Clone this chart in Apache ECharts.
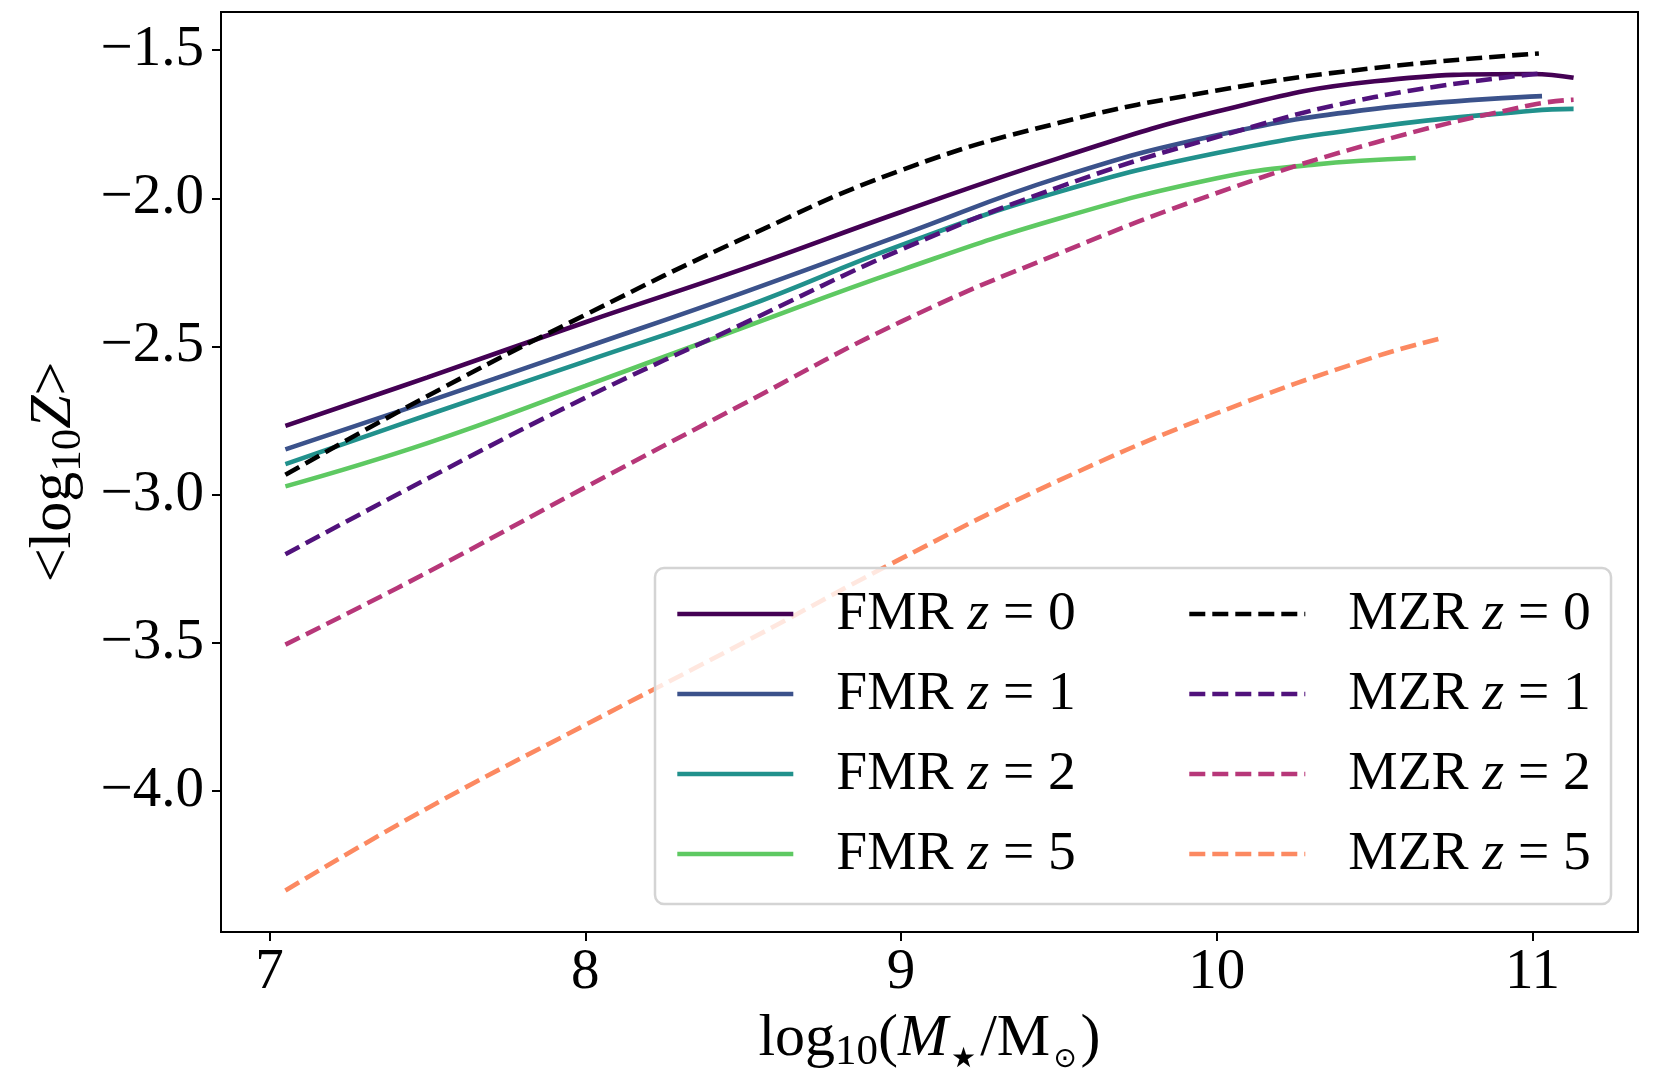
<!DOCTYPE html>
<html>
<head>
<meta charset="utf-8">
<script src="https://cdn.jsdelivr.net/npm/echarts@6/dist/echarts.min.js"></script>
<style>
html,body{margin:0;padding:0;background:#fff;}
#chart{width:1665px;height:1080px;}
</style>
</head>
<body>
<div id="chart"></div>
<script>
// ---- data ----
const xTicks = [7, 8, 9, 10, 11];
const yTicks = [-4.0, -3.5, -3.0, -2.5, -2.0, -1.5];

const fmr0X = [7.05, 7.5, 8.0, 8.5, 9.0, 9.5, 10.0, 10.5, 11.0, 11.13];
const fmr0Y = [-2.768, -2.604, -2.418, -2.238, -2.046, -1.864, -1.707, -1.605, -1.580, -1.593];

const fmr1X = [7.05, 7.5, 8.0, 8.5, 9.0, 9.5, 10.0, 10.5, 11.03];
const fmr1Y = [-2.847, -2.686, -2.503, -2.318, -2.124, -1.930, -1.787, -1.698, -1.655];

const fmr2X = [7.05, 7.5, 8.0, 8.5, 9.0, 9.5, 10.0, 10.5, 11.0, 11.13];
const fmr2Y = [-2.897, -2.731, -2.550, -2.368, -2.158, -1.978, -1.847, -1.759, -1.704, -1.698];

const fmr5X = [7.05, 7.5, 8.0, 8.5, 9.0, 9.5, 10.0, 10.3, 10.63];
const fmr5Y = [-2.972, -2.826, -2.633, -2.436, -2.242, -2.068, -1.932, -1.887, -1.864];

const mzr0X = [7.05, 7.5, 8.0, 8.5, 9.0, 9.5, 10.0, 10.5, 11.02];
const mzr0Y = [-2.933, -2.667, -2.393, -2.135, -1.905, -1.745, -1.636, -1.560, -1.511];

const mzr1X = [7.05, 7.5, 8.0, 8.5, 9.0, 9.5, 10.0, 10.5, 11.02];
const mzr1Y = [-3.201, -2.946, -2.673, -2.423, -2.173, -1.962, -1.793, -1.658, -1.579];

const mzr2X = [7.05, 7.5, 8.0, 8.5, 9.0, 9.5, 10.0, 10.5, 11.0, 11.13];
const mzr2Y = [-3.506, -3.262, -2.975, -2.694, -2.416, -2.186, -1.982, -1.812, -1.684, -1.667];

const mzr5X = [7.05, 7.5, 8.0, 8.5, 9.0, 9.5, 10.0, 10.5, 10.72];
const mzr5Y = [-4.336, -4.058, -3.777, -3.500, -3.216, -2.952, -2.725, -2.535, -2.470];

const fmrNames = ['FMR z=0', 'FMR z=1', 'FMR z=2', 'FMR z=5'];
const mzrNames = ['MZR z=0', 'MZR z=1', 'MZR z=2', 'MZR z=5'];
// ---------------------------------------

const pairs = (xs, ys) => xs.map((x, i) => [x, ys[i]]);
const LW = 4.6;
const DASH = [16, 7];
const SERIF = 'Liberation Serif';

function mkSeries(name, xs, ys, color, dashed) {
  return {
    name: name,
    type: 'line',
    data: pairs(xs, ys),
    smooth: 0.45,
    symbol: 'none',
    showSymbol: false,
    z: 2,
    color: color,
    itemStyle: { color: color },
    lineStyle: { width: LW, color: color, type: dashed ? DASH : 'solid', cap: 'butt' }
  };
}

const series = [
  mkSeries(fmrNames[0], fmr0X, fmr0Y, '#440154', false),
  mkSeries(fmrNames[1], fmr1X, fmr1Y, '#3b528b', false),
  mkSeries(fmrNames[2], fmr2X, fmr2Y, '#21918c', false),
  mkSeries(fmrNames[3], fmr5X, fmr5Y, '#5ec962', false),
  mkSeries(mzrNames[0], mzr0X, mzr0Y, '#000000', true),
  mkSeries(mzrNames[1], mzr1X, mzr1Y, '#51127c', true),
  mkSeries(mzrNames[2], mzr2X, mzr2Y, '#b73779', true),
  mkSeries(mzrNames[3], mzr5X, mzr5Y, '#fc8961', true)
];

const LFS = 55.5;
const legendRich = {
  t: { fontFamily: SERIF, fontSize: LFS, color: '#000', lineHeight: 50 },
  i: { fontFamily: SERIF, fontSize: LFS, fontStyle: 'italic', color: '#000', lineHeight: 50 }
};
function legendFmt(name) {
  const parts = name.split(' z=');
  return '{t|' + parts[0] + ' }{i|z}{t| = ' + parts[1] + '}';
}
function mkLegend(names, left) {
  return {
    data: names,
    orient: 'vertical',
    left: left,
    top: 586,
    itemWidth: 116,
    itemHeight: 4,
    itemGap: 24,
    padding: 0,
    z: 10,
    selectedMode: false,
    formatter: legendFmt,
    itemStyle: { opacity: 0 },
    lineStyle: { width: LW },
    textStyle: { fontFamily: SERIF, fontSize: LFS, color: '#000', padding: [0, 0, 0, 38], rich: legendRich }
  };
}

const labelStyle = { fontFamily: SERIF, fontSize: 57, color: '#000' };
const NFS = 60;

const option = {
  backgroundColor: '#ffffff',
  animation: false,
  grid: { left: 221, right: 27, top: 12, bottom: 148, show: true, borderColor: '#000', borderWidth: 2, backgroundColor: 'transparent' },
  xAxis: {
    type: 'value',
    min: 6.846,
    max: 11.334,
    splitLine: { show: false },
    axisLine: { show: true, onZero: false, lineStyle: { color: '#000', width: 2 } },
    axisTick: { show: true, inside: false, length: 9, lineStyle: { color: '#000', width: 2 }, customValues: xTicks },
    axisLabel: { show: true, margin: 13, customValues: xTicks, formatter: v => String(Math.round(v)), ...labelStyle },
    name: '{n|log}{s|10}{n|(}{i|M}{st|★}{n|/M}{st|⊙}{n|)}',
    nameLocation: 'middle',
    nameGap: 72,
    nameTextStyle: {
      rich: {
        n: { fontFamily: SERIF, fontSize: NFS, color: '#000', lineHeight: 70 },
        i: { fontFamily: SERIF, fontSize: NFS, fontStyle: 'italic', color: '#000', lineHeight: 70 },
        s: { fontFamily: SERIF, fontSize: 43, color: '#000', lineHeight: 43, verticalAlign: 'bottom' },
        st: { fontFamily: 'DejaVu Sans', fontSize: 28, color: '#000', lineHeight: 32, verticalAlign: 'bottom', padding: [0, 4, 0, 3] }
      }
    }
  },
  yAxis: {
    type: 'value',
    min: -4.476,
    max: -1.371,
    splitLine: { show: false },
    axisLine: { show: true, onZero: false, lineStyle: { color: '#000', width: 2 } },
    axisTick: { show: true, inside: false, length: 9, lineStyle: { color: '#000', width: 2 }, customValues: yTicks },
    axisLabel: { show: true, margin: 17, customValues: yTicks, formatter: v => v.toFixed(1).replace('-', '\u2212'), ...labelStyle },
    name: '{n|<log}{s|10}{i|Z}{n|>}',
    nameLocation: 'middle',
    nameRotate: 90,
    nameGap: 127,
    nameTextStyle: {
      rich: {
        n: { fontFamily: SERIF, fontSize: NFS, color: '#000', lineHeight: 70 },
        i: { fontFamily: SERIF, fontSize: NFS, fontStyle: 'italic', color: '#000', lineHeight: 70 },
        s: { fontFamily: SERIF, fontSize: 43, color: '#000', lineHeight: 43, verticalAlign: 'bottom' }
      }
    }
  },
  legend: [mkLegend(fmrNames, 675), mkLegend(mzrNames, 1187)],
  graphic: [{
    type: 'rect',
    z: 3,
    silent: true,
    shape: { x: 655, y: 568, width: 956, height: 336, r: 9 },
    style: { fill: 'rgba(255,255,255,0.8)', stroke: '#d4d4d4', lineWidth: 2.5 }
  }],
  series: series
};

const chart = echarts.init(document.getElementById('chart'), null, { renderer: 'canvas' });
chart.setOption(option);
</script>
</body>
</html>
